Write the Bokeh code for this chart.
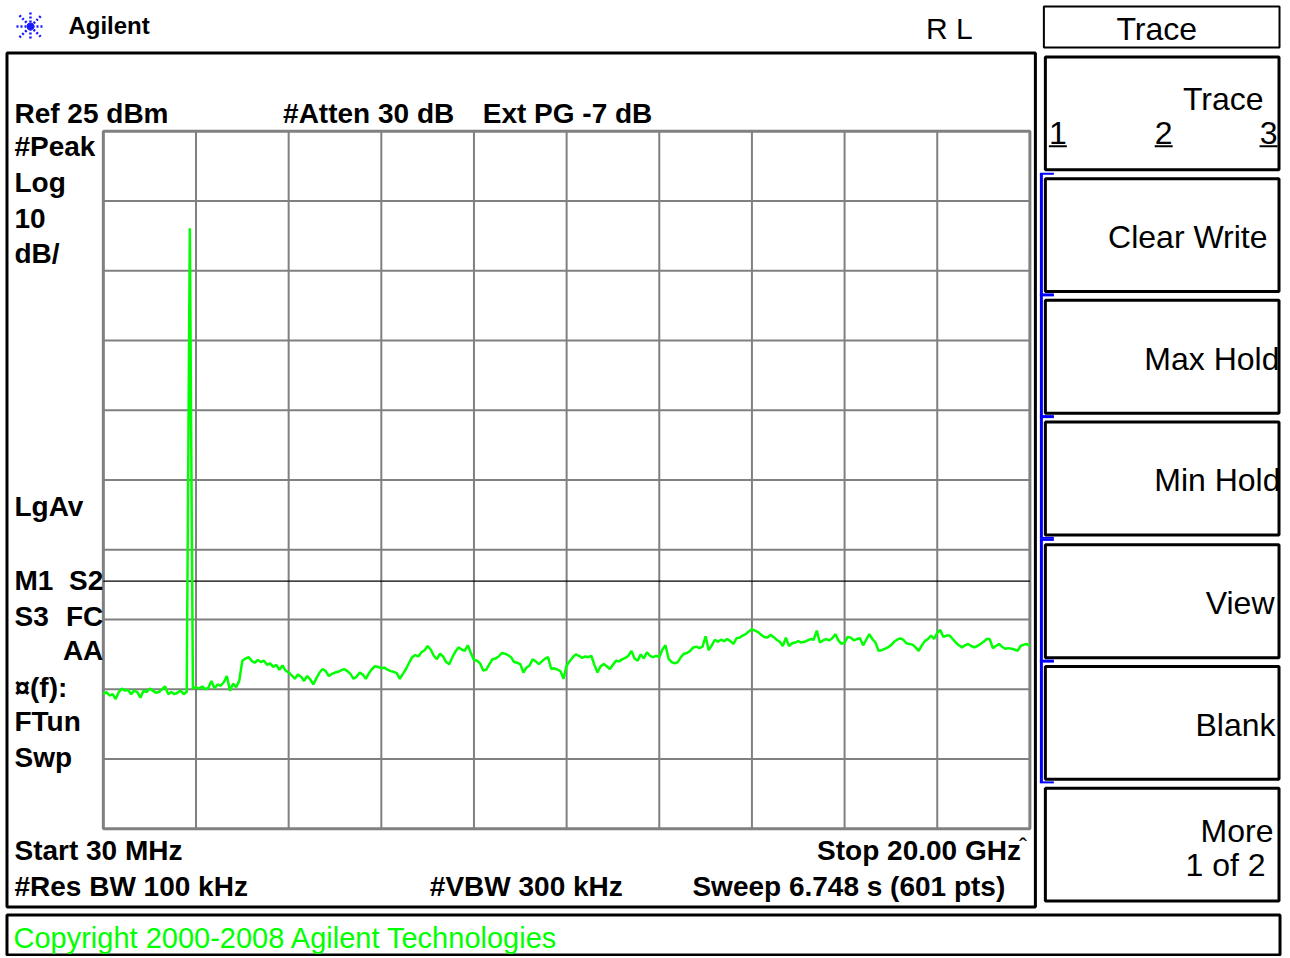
import numpy as np
from bokeh.plotting import figure
from bokeh.models import Range1d
from bokeh.core.properties import value
from bokeh.embed import file_html
from bokeh.resources import INLINE

# ---------------- instrument settings / data ----------------
start_ghz = 0.03
stop_ghz = 20.0
ref_level_dbm = 25.0
db_per_div = 10.0
n_div = 10
display_line_dbm = -39.5

# 301 trace points (every other sweep point of the 601-pt sweep), dBm
level_dbm = [
    -55.7, -55.4, -55.9, -55.7, -56.4, -55.4, -54.9, -55.2, -55.1, -55.7,
    -55.2, -55.4, -56.2, -55.2, -55.4, -54.9, -55.2, -55.5, -55.4, -55.0,
    -54.6, -55.7, -55.4, -55.7, -55.5, -55.2, -55.7, -55.4, 11.1, -54.9,
    -54.7, -54.9, -54.6, -55.0, -54.8, -53.8, -54.9, -54.3, -54.5, -54.0,
    -53.1, -55.2, -54.2, -54.7, -53.8, -50.9, -50.6, -50.4, -50.9, -51.2,
    -50.8, -51.1, -50.9, -51.5, -51.3, -51.8, -51.5, -52.2, -51.6, -52.3,
    -52.6, -53.0, -53.5, -52.9, -53.2, -53.8, -53.1, -53.6, -54.3, -53.4,
    -52.6, -52.1, -52.4, -53.1, -52.8, -52.6, -52.5, -52.3, -52.1, -52.4,
    -52.8, -53.5, -53.2, -52.6, -52.9, -53.5, -52.7, -52.1, -51.7, -51.8,
    -52.0, -51.9, -52.2, -52.4, -52.5, -52.7, -53.5, -52.8, -52.1, -51.2,
    -50.4, -50.1, -50.3, -49.7, -49.4, -48.8, -49.3, -50.2, -50.7, -49.9,
    -50.3, -51.1, -51.4, -50.4, -49.6, -49.0, -49.3, -49.5, -48.7, -49.8,
    -50.8, -50.9, -51.3, -52.3, -52.2, -51.4, -50.7, -50.6, -50.3, -49.8,
    -49.9, -50.1, -50.4, -51.1, -51.2, -51.4, -52.6, -51.9, -51.6, -50.7,
    -51.0, -51.4, -51.0, -50.6, -50.4, -52.1, -52.0, -52.2, -52.4, -53.5,
    -51.6, -51.0, -50.4, -50.0, -50.2, -50.5, -50.3, -50.4, -50.2, -51.5,
    -52.6, -51.7, -51.4, -51.7, -52.1, -51.5, -50.9, -51.0, -50.7, -50.5,
    -50.2, -49.5, -50.6, -50.9, -50.0, -50.6, -49.7, -50.2, -50.4, -50.2,
    -50.4, -49.3, -48.7, -50.6, -51.1, -51.3, -51.1, -50.4, -49.9, -49.8,
    -49.5, -49.0, -48.9, -49.1, -48.9, -47.4, -49.4, -48.7, -47.9, -48.2,
    -47.9, -48.1, -47.8, -48.1, -48.5, -47.7, -47.6, -47.3, -47.1, -46.7,
    -46.4, -46.6, -46.8, -47.2, -47.5, -47.6, -47.2, -47.5, -47.9, -48.2,
    -48.8, -47.6, -48.8, -48.4, -48.3, -48.1, -48.3, -48.2, -48.0, -47.8,
    -47.9, -46.6, -48.3, -48.0, -47.8, -48.0, -47.7, -47.1, -48.0, -48.5,
    -48.3, -47.5, -47.6, -48.0, -47.8, -47.7, -48.7, -47.9, -47.1, -47.8,
    -48.3, -49.5, -49.4, -49.2, -49.0, -48.7, -48.2, -47.9, -47.7, -47.9,
    -48.4, -48.5, -48.6, -49.0, -49.5, -48.7, -48.1, -47.8, -47.3, -47.8,
    -46.9, -46.5, -47.5, -47.3, -47.3, -47.8, -48.3, -48.7, -49.0, -48.7,
    -48.5, -48.8, -49.0, -48.8, -48.5, -48.2, -47.8, -47.8, -49.1, -48.8,
    -48.5, -48.9, -49.2, -49.1, -49.2, -49.3, -49.5, -48.8, -48.6, -48.5,
    -48.8,
]
# linear sweep: points are equally spaced between start and stop
freq_ghz = np.linspace(start_ghz, stop_ghz, len(level_dbm))

# ---------------- annotation texts ----------------
bold_texts = ["Ref 25 dBm", "#Atten 30 dB", "Ext PG -7 dB", "#Peak", "Log", "10", "dB/",
              "LgAv", "M1", "S3", "\u00a4(f):", "FTun", "Swp", "Start 30 MHz",
              "#Res BW 100 kHz", "#VBW 300 kHz", "Sweep 6.748 s (601 pts)"]
bold_x = [14, 283, 483, 14, 14, 14, 14, 14, 14, 14, 14, 14, 14, 14, 14, 430, 693]
bold_y = [113, 113, 113, 146, 182, 218, 254, 507, 581, 617, 688, 723, 759, 852, 888, 888, 888]

bold_right_texts = ["S2", "FC", "AA", "Stop 20.00 GHz"]
bold_right_x = [103, 103, 103, 1022]
bold_right_y = [581, 617, 651, 852]

key_texts = ["Clear Write", "Max Hold", "Min Hold", "View", "Blank", "More", "1 of 2", "Trace"]
key_x = [1269, 1281, 1282, 1276, 1277, 1275, 1267, 1265]
key_y = [237, 359, 481, 604, 726, 832, 866, 99]

trace_keys = ["1", "2", "3"]
trace_key_x = [1059, 1165, 1270]

# ---------------- geometry of the screen (reference pixels) ----------------
W_REF, H_REF = 1290, 958
GX0, GX1, GY0, GY1 = 103, 1031, 131, 830

ghz_per_px = (stop_ghz - start_ghz) / (GX1 - GX0)
db_span = n_div * db_per_div
db_per_px = db_span / (GY1 - GY0)
bottom_dbm = ref_level_dbm - db_span

p = figure(width=1288, height=956, x_range=Range1d(0, W_REF), y_range=Range1d(H_REF, 0),
           output_backend="svg", toolbar_location=None, min_border=0,
           x_axis_location=None, y_axis_location=None)
p.grid.visible = False
p.outline_line_color = None
p.background_fill_color = "white"
p.border_fill_color = "white"

p.extra_x_ranges = {"freq": Range1d(start_ghz - GX0 * ghz_per_px,
                                    stop_ghz + (W_REF - GX1) * ghz_per_px)}
p.extra_y_ranges = {"amp": Range1d(bottom_dbm - (H_REF - GY1) * db_per_px,
                                   ref_level_dbm + GY0 * db_per_px)}

FONT = value("Liberation Sans")

# ---------- boxes ----------
p.quad(left=[6.5], right=[1036.5], top=[52.5], bottom=[908.5], fill_color=None,
       line_color="black", line_width=3)
p.quad(left=[6.5], right=[1281.5], top=[916.5], bottom=[956.5], fill_color=None,
       line_color="black", line_width=3)
p.quad(left=[1045], right=[1281], top=[6], bottom=[47], fill_color=None,
       line_color="black", line_width=2)
btn_tops = np.array([56.5, 178.5, 300.5, 422.5, 545.5, 667.5, 789.5])
btn_h = 113
p.quad(left=1046.5, right=1280.5, top=btn_tops, bottom=btn_tops + btn_h,
       fill_color=None, line_color="black", line_width=3)
# blue brackets next to the active keys
bt = btn_tops[1:6]
p.segment(x0=1042.5, x1=1042.5, y0=bt - 5, y1=bt + btn_h + 3, line_color="#0000ff", line_width=3)
p.segment(x0=1041, x1=1055, y0=bt - 5, y1=bt - 5, line_color="#0000ff", line_width=2)
p.segment(x0=1041, x1=1055, y0=bt + btn_h + 3, y1=bt + btn_h + 3, line_color="#0000ff", line_width=2)

# ---------- logo ----------
cx, cy = 30, 26
p.segment(x0=[16, cx, 19, 19], x1=[44, cx, 41, 41], y0=[cy, 12, 15, 37], y1=[cy, 40, 37, 15],
          line_color="#1a1aff", line_width=2.5, line_dash="2 2")
p.scatter([cx], [cy], size=7, color="#1a1aff")

# ---------- graticule ----------
div_f = [start_ghz + i * (stop_ghz - start_ghz) / n_div for i in range(1, n_div)]
div_a = [ref_level_dbm - i * db_per_div for i in range(1, n_div)]
p.segment(x0=div_f, x1=div_f, y0=bottom_dbm, y1=ref_level_dbm, line_color="#808080",
          line_width=2, x_range_name="freq", y_range_name="amp")
p.segment(x0=start_ghz, x1=stop_ghz, y0=div_a, y1=div_a, line_color="#808080",
          line_width=2, x_range_name="freq", y_range_name="amp")
p.quad(left=[start_ghz], right=[stop_ghz], top=[ref_level_dbm], bottom=[bottom_dbm],
       fill_color=None, line_color="#808080", line_width=3,
       x_range_name="freq", y_range_name="amp")
# display line
p.segment(x0=[start_ghz], x1=[stop_ghz], y0=[display_line_dbm], y1=[display_line_dbm],
          line_color="black", line_width=1.2, x_range_name="freq", y_range_name="amp")

# ---------- trace ----------
p.line(freq_ghz, level_dbm, line_color="#00ff00", line_width=2.5,
       x_range_name="freq", y_range_name="amp")

# ---------- texts ----------
p.text(x=bold_x, y=bold_y, text=bold_texts, text_font=FONT, text_font_style="bold",
       text_font_size=value("28px"), text_baseline="middle", text_align="left",
       text_color="black")
p.text(x=bold_right_x, y=bold_right_y, text=bold_right_texts, text_font=FONT,
       text_font_style="bold", text_font_size=value("28px"), text_baseline="middle",
       text_align="right", text_color="black")
p.text(x=[1024], y=[848], text=["\u02c6"], text_font=FONT, text_font_size=value("24px"),
       text_baseline="middle", text_align="center", text_color="black")
p.text(x=key_x, y=key_y, text=key_texts, text_font=FONT, text_font_size=value("32px"),
       text_baseline="middle", text_align="right", text_color="black")
p.text(x=[1158], y=[29], text=["Trace"], text_font=FONT, text_font_size=value("32px"),
       text_baseline="middle", text_align="center", text_color="black")
p.text(x=trace_key_x, y=133, text=trace_keys, text_font=FONT,
       text_font_size=value("32px"), text_baseline="middle", text_align="center",
       text_color="black")
# underlines of the trace selectors 1 2 3
p.segment(x0=[x - 9 for x in trace_key_x], x1=[x + 9 for x in trace_key_x], y0=146, y1=146,
          line_color="black", line_width=2)
p.text(x=[927], y=[28], text=["R L"], text_font=FONT, text_font_size=value("30px"),
       text_baseline="middle", text_align="left", text_color="black")
p.text(x=[68], y=[25], text=["Agilent"], text_font=FONT, text_font_style="bold",
       text_font_size=value("24px"), text_baseline="middle", text_align="left",
       text_color="black")
p.text(x=[13], y=[939], text=["Copyright 2000-2008 Agilent Technologies"], text_font=FONT,
       text_font_size=value("29px"), text_baseline="middle", text_align="left",
       text_color="#00ff00")

open("out.html", "w").write(file_html(p, INLINE))
